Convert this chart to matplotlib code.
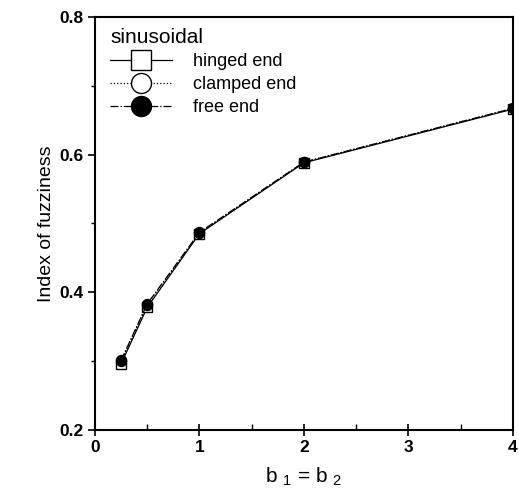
import numpy as np
import matplotlib.pyplot as plt

b = [0.25, 0.5, 1, 2, 4]
hinged = [0.296, 0.378, 0.485, 0.588, 0.666]
clamped = [0.300, 0.382, 0.486, 0.589, 0.667]
free = [0.301, 0.383, 0.487, 0.589, 0.667]

xticks = [0, 1, 2, 3, 4]
yticks = [0.2, 0.4, 0.6, 0.8]

plt.rcParams['font.family'] = ['Liberation Sans', 'DejaVu Sans']

fig = plt.figure(figsize=(5.19, 4.97), dpi=100)
ax = fig.add_axes([0.183, 0.135, 0.805, 0.831])

ax.plot(b, hinged, '-', color='black', lw=0.9, marker='s', ms=7.2,
        mfc='white', mec='black', mew=1.0, label='hinged end')
ax.plot(b, clamped, ':', color='black', lw=0.9, marker='o', ms=7.2,
        mfc='white', mec='black', mew=1.0, label='clamped end')
ax.plot(b, free, '-.', color='black', lw=0.9, marker='o', ms=7.2,
        mfc='black', mec='black', label='free end')

ax.set_xlim(0, 4)
ax.set_ylim(0.2, 0.8)
ax.set_xticks(xticks)
ax.set_xticklabels([str(t) for t in xticks], fontweight='bold')
ax.set_xticks(np.arange(0.5, 4, 1.0), minor=True)
ax.set_yticks(yticks)
ax.set_yticklabels(['%.1f' % t for t in yticks], fontweight='bold')
ax.set_yticks([0.3, 0.5, 0.7], minor=True)
ax.tick_params(axis='x', which='major', direction='inout', length=8, width=1.2)
ax.tick_params(axis='x', which='minor', direction='in', length=4, width=1)
ax.tick_params(axis='y', which='major', direction='out', length=5, width=1.2)
ax.tick_params(axis='y', which='minor', direction='out', length=3, width=1)
ax.tick_params(labelsize=12.5)
for s in ax.spines.values():
    s.set_linewidth(1.5)

ax.set_xlabel(r'b $_{\mathregular{1}}$ = b $_{\mathregular{2}}$', fontsize=15, labelpad=7)
ax.set_ylabel('Index of fuzziness', fontsize=14, labelpad=3)

leg = ax.legend(title='sinusoidal', loc='upper left', frameon=False,
                fontsize=13, title_fontsize=15, markerscale=2.0,
                handlelength=3.45, borderaxespad=0, labelspacing=0.33,
                handletextpad=1.15, borderpad=0,
                bbox_to_anchor=(110 / 519, 1 - 28 / 497),
                bbox_transform=fig.transFigure)
leg._legend_box.align = 'left'

fig.savefig('out.png', dpi=100)
